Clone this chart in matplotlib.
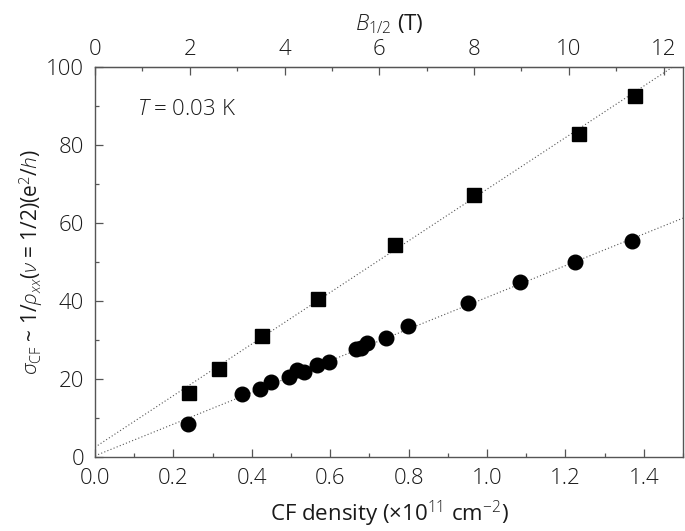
import numpy as np
import matplotlib
matplotlib.use("Agg")
import matplotlib.pyplot as plt
from matplotlib.ticker import MultipleLocator

# ---- data ----
sq_x = [0.239, 0.316, 0.425, 0.568, 0.766, 0.968, 1.235, 1.378]
sq_y = [16.3, 22.5, 31.0, 40.5, 54.3, 67.1, 82.8, 92.6]
ci_x = [0.236, 0.376, 0.422, 0.448, 0.496, 0.516, 0.533, 0.567, 0.598,
        0.666, 0.679, 0.694, 0.742, 0.799, 0.952, 1.084, 1.224, 1.371]
ci_y = [8.4, 16.2, 17.3, 19.1, 20.5, 22.3, 21.7, 23.5, 24.4,
        27.6, 27.9, 29.1, 30.6, 33.5, 39.4, 44.8, 50.0, 55.3]
fit_sq = (66.1, 2.5)   # slope, intercept
fit_ci = (40.6, 0.3)
n_per_T = 0.1209       # CF density (1e11 cm^-2) per tesla
xticks_bottom = [0.0, 0.2, 0.4, 0.6, 0.8, 1.0, 1.2, 1.4]
yticks = [0, 20, 40, 60, 80, 100]
xticks_top = [0, 2, 4, 6, 8, 10, 12]

plt.rcParams['font.family'] = ['Open Sans', 'DejaVu Sans']
plt.rcParams['font.weight'] = 'light'
plt.rcParams['mathtext.fontset'] = 'custom'
plt.rcParams['mathtext.rm'] = 'Open Sans:light'
plt.rcParams['mathtext.it'] = 'Open Sans:italic:light'
plt.rcParams['mathtext.bf'] = 'Open Sans:bold'

txt = '#1a1a1a'
spine_c = '#555555'
fs = 16

fig = plt.figure(figsize=(6.85, 5.31), dpi=100)
ax = fig.add_axes([0.1387, 0.1394, 0.997 - 0.1387, 0.8744 - 0.1394])

xs = np.array([0.0, 1.5])
ax.plot(xs, fit_sq[0] * xs + fit_sq[1], ls=(0, (1, 2)), color='#555555', lw=0.8)
ax.plot(xs, fit_ci[0] * xs + fit_ci[1], ls=(0, (1, 2)), color='#555555', lw=0.8)
ax.plot(sq_x, sq_y, 's', color='black', ms=9.5, mec='black')
ax.plot(ci_x, ci_y, 'o', color='black', ms=10.5, mec='black')

ax.set_xlim(0, 1.5)
ax.set_ylim(0, 100)
ax.set_xticks(xticks_bottom)
ax.set_xticklabels([f'{v:.1f}' for v in xticks_bottom])
ax.set_yticks(yticks)
ax.xaxis.set_minor_locator(MultipleLocator(0.1))
ax.yaxis.set_minor_locator(MultipleLocator(10))
ax.tick_params(which='both', direction='in', colors=spine_c, labelcolor=txt,
               labelsize=fs, top=False, right=False, width=0.9)
ax.tick_params(which='major', length=6)
ax.tick_params(which='minor', length=3)
ax.tick_params(axis='x', pad=8)
ax.tick_params(axis='y', pad=8)
for s in ax.spines.values():
    s.set_color(spine_c)
    s.set_linewidth(1.0)

sec = ax.secondary_xaxis('top', functions=(lambda x: x / n_per_T, lambda b: b * n_per_T))
sec.set_xticks(xticks_top)
sec.xaxis.set_minor_locator(MultipleLocator(1))
sec.tick_params(which='both', direction='in', colors=spine_c, labelcolor=txt,
                labelsize=fs, width=0.9, pad=5)
sec.tick_params(which='major', length=6)
sec.tick_params(which='minor', length=3)
sec.spines['top'].set_color(spine_c)
sec.set_xlabel(r'$B_{1/2}$ (T)', fontsize=fs, color=txt, labelpad=6)

ax.set_xlabel(r'CF density (×10$^{11}$ cm$^{-2}$)', fontsize=fs, color=txt, labelpad=7)
ax.set_ylabel(r'$\sigma_{\mathrm{CF}}$ ~ 1/$\rho_{xx}$($\nu$ = 1/2)(e$^2$/$h$)',
              fontsize=15, color=txt, labelpad=0)

ax.text(0.072, 0.875, r'$T$ = 0.03 K', transform=ax.transAxes, fontsize=fs, color=txt)

fig.savefig('out.png', dpi=100)
